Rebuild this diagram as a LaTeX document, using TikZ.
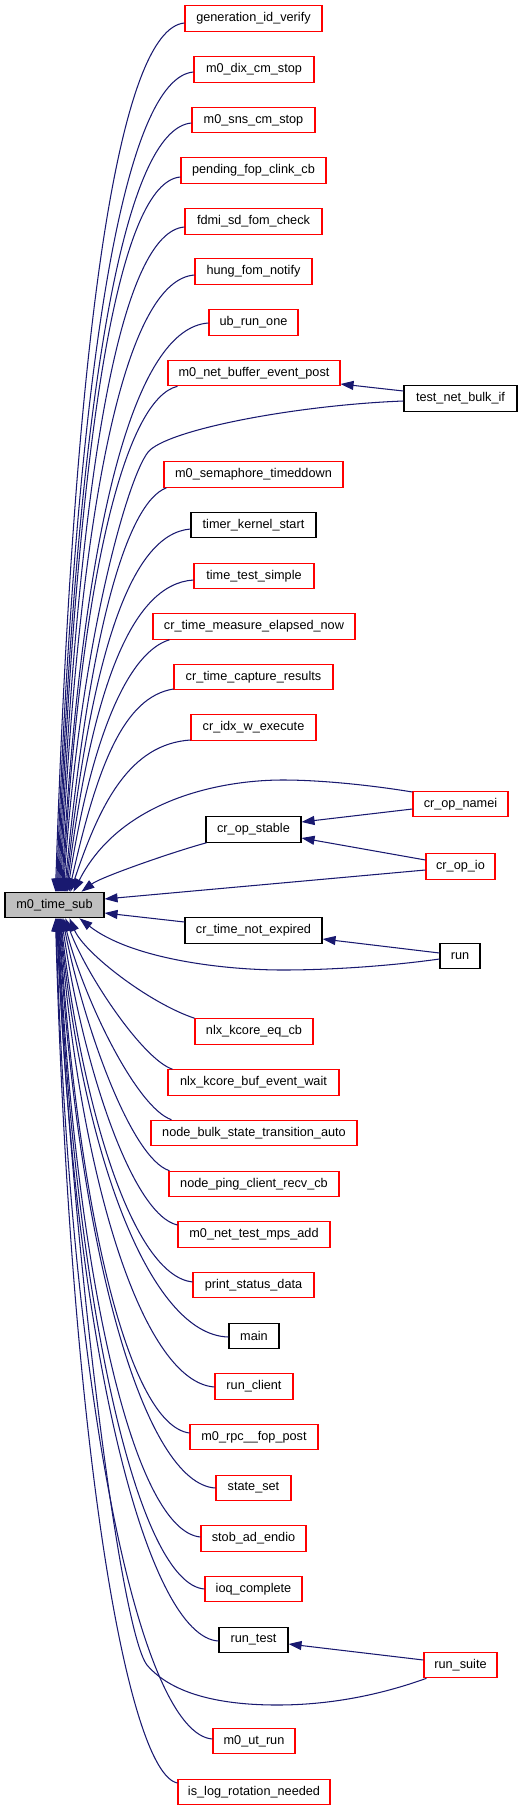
\documentclass[tikz,border=0pt]{standalone}
\usepackage{fontspec}
\setmainfont{Liberation Sans}
\usetikzlibrary{arrows.meta,calc}
\definecolor{edgeblue}{HTML}{191970}
\definecolor{nodered}{HTML}{FF0000}
\definecolor{subgray}{HTML}{BFBFBF}
\begin{document}
\begin{tikzpicture}[x=1pt,y=-1pt,
  box/.style={draw, line width=1.1pt, minimum height=25.5pt, inner sep=0pt, fill=white,
              font=\fontsize{12.7}{15}\selectfont, text=black},
  rbox/.style={box, draw=nodered},
  kbox/.style={box, draw=black},
  calls/.style={draw=edgeblue, line width=1.05pt, -{Triangle[length=13pt,width=9pt]}}
]
\fill[white] (0,0) rectangle (531,1811);
\useasboundingbox (0,0) rectangle (531,1811);

% nodes
\node[rbox, minimum width=137pt] (gen)  at (253.5,18.5)  {generation\_id\_verify};
\node[rbox, minimum width=120pt] (dix)  at (254,69.5)    {m0\_dix\_cm\_stop};
\node[rbox, minimum width=123pt] (sns)  at (253.5,120)   {m0\_sns\_cm\_stop};
\node[rbox, minimum width=145pt] (pend) at (253.5,170.5) {pending\_fop\_clink\_cb};
\node[rbox, minimum width=137pt] (fdmi) at (253.5,221.5) {fdmi\_sd\_fom\_check};
\node[rbox, minimum width=117pt] (hung) at (253.5,271.5) {hung\_fom\_notify};
\node[rbox, minimum width=89pt]  (ub)   at (253.5,322.5) {ub\_run\_one};
\node[rbox, minimum width=172pt] (nbep) at (254,373)     {m0\_net\_buffer\_event\_post};
\node[kbox, minimum width=113pt] (tnb)  at (460.5,398.5) {test\_net\_bulk\_if};
\node[rbox, minimum width=179pt] (sem)  at (253.5,474.5) {m0\_semaphore\_timeddown};
\node[kbox, minimum width=125pt] (tks)  at (253.5,525)   {timer\_kernel\_start};
\node[rbox, minimum width=120pt] (tts)  at (254,576)     {time\_test\_simple};
\node[rbox, minimum width=202pt] (ctme) at (254,626.5)   {cr\_time\_measure\_elapsed\_now};
\node[rbox, minimum width=159pt] (ctcr) at (253.5,677)   {cr\_time\_capture\_results};
\node[rbox, minimum width=125pt] (ciwe) at (253.5,727.5) {cr\_idx\_w\_execute};
\node[rbox, minimum width=95pt]  (namei) at (460.5,804)  {cr\_op\_namei};
\node[kbox, minimum width=95pt]  (stable) at (253.5,829.5) {cr\_op\_stable};
\node[rbox, minimum width=69pt]  (opio) at (460.5,866.5) {cr\_op\_io};
\node[box, draw=black, fill=subgray, minimum width=99pt] (sub) at (54.5,905) {m0\_time\_sub};
\node[kbox, minimum width=137pt] (ctne) at (253.5,930.5) {cr\_time\_not\_expired};
\node[kbox, minimum width=40pt]  (run)  at (460,956)     {run};
\node[rbox, minimum width=118pt] (nkec) at (254,1031.5)  {nlx\_kcore\_eq\_cb};
\node[rbox, minimum width=171pt] (nkbe) at (253.5,1082.5) {nlx\_kcore\_buf\_event\_wait};
\node[rbox, minimum width=206pt] (nbst) at (254,1133)    {node\_bulk\_state\_transition\_auto};
\node[rbox, minimum width=170pt] (npcr) at (254,1184)    {node\_ping\_client\_recv\_cb};
\node[rbox, minimum width=152pt] (ntma) at (254,1234.5)  {m0\_net\_test\_mps\_add};
\node[rbox, minimum width=121pt] (psd)  at (253.5,1285)  {print\_status\_data};
\node[kbox, minimum width=50pt]  (main) at (254,1336)    {main};
\node[rbox, minimum width=78pt]  (rc)   at (254,1386.5)  {run\_client};
\node[rbox, minimum width=128pt] (rfp)  at (254,1437)    {m0\_rpc\_\_fop\_post};
\node[rbox, minimum width=75pt]  (ss)   at (253.5,1488)  {state\_set};
\node[rbox, minimum width=105pt] (sae)  at (253.5,1538.5) {stob\_ad\_endio};
\node[rbox, minimum width=97pt]  (ioq)  at (253.5,1589)  {ioq\_complete};
\node[kbox, minimum width=69pt]  (rt)   at (253.5,1640)  {run\_test};
\node[rbox, minimum width=73pt]  (rs)   at (460.5,1665)  {run\_suite};
\node[rbox, minimum width=82pt]  (mur)  at (254,1741)    {m0\_ut\_run};
\node[rbox, minimum width=152pt] (ilrn) at (254,1792)    {is\_log\_rotation\_needed};

% edges into m0_time_sub from above
\draw[calls] ($(gen.west)+(0,4.5)$)  .. controls +(-65,6) and +(19,-570) .. ($(sub.north west)+(51,0)$);
\draw[calls] ($(dix.west)+(0,2.5)$)  .. controls +(-68,6) and +(20,-540) .. ($(sub.north west)+(52,0)$);
\draw[calls] ($(sns.west)+(0,3)$)    .. controls +(-67,6) and +(20,-505) .. ($(sub.north west)+(53,0)$);
\draw[calls] ($(pend.west)+(0,6.5)$) .. controls +(-61,5) and +(20,-470) .. ($(sub.north west)+(54,0)$);
\draw[calls] ($(fdmi.west)+(0,5.5)$) .. controls +(-62,5) and +(20,-435) .. ($(sub.north west)+(55,0)$);
\draw[calls] ($(hung.west)+(0,3.5)$) .. controls +(-67,5) and +(20,-405) .. ($(sub.north west)+(56,0)$);
\draw[calls] ($(ub.west)+(0,0.5)$)   .. controls +(-73,5) and +(22,-375) .. ($(sub.north west)+(57,0)$);
\draw[calls] ($(nbep.south west)+(10,0)$) .. controls +(-50,12) and +(20,-330) .. ($(sub.north west)+(58,0)$);
\draw[calls] ($(tnb.west)+(0,2.5)$) .. controls (300,405) and (175,428) .. (150,450)
             .. controls (130,468) and (80,640) .. ($(sub.north west)+(59,0)$);
\draw[calls] ($(sem.south west)+(3,0)$) .. controls +(-40,15) and +(25,-260) .. ($(sub.north west)+(60,0)$);
\draw[calls] ($(tks.west)+(0,4)$)   .. controls +(-62,5) and +(25,-230) .. ($(sub.north west)+(61,0)$);
\draw[calls] ($(tts.west)+(0,4)$)   .. controls +(-63,4) and +(25,-200) .. ($(sub.north west)+(62,0)$);
\draw[calls] ($(ctme.south west)+(17,0)$) .. controls +(-40,12) and +(25,-160) .. ($(sub.north west)+(63,0)$);
\draw[calls] ($(ctcr.west)+(0,12)$) .. controls +(-50,8) and +(28,-125) .. ($(sub.north west)+(64.5,0)$);
\draw[calls] ($(ciwe.west)+(0,12.5)$) .. controls +(-60,4) and +(30,-90) .. ($(sub.north west)+(66,0)$);
\draw[calls] ($(namei.west)+(0,-12)$) .. controls (370,785) and (320,780) .. (283,780)
             .. controls (220,780) and (120,800) .. ($(sub.north west)+(69,0)$);
\draw[calls] ($(stable.south west)+(1,0)$) .. controls +(-30,8) and +(20,-15) .. ($(sub.north west)+(77,0)$);

% side edges
\draw[calls] ($(opio.west)+(0,3.5)$) -- ($(sub.east)+(0,-6)$);
\draw[calls] ($(ctne.west)+(0,-8.5)$) -- ($(sub.east)+(0,8)$);

% edges into m0_time_sub from below
\draw[calls] ($(run.west)+(0,3)$) .. controls (390,966) and (330,970) .. (283,970)
             .. controls (220,970) and (130,958) .. ($(sub.south west)+(75,0)$);
\draw[calls] (nkec.north west) .. controls +(-45,-15) and +(15,35) .. ($(sub.south west)+(65,0)$);
\draw[calls] ($(nkbe.north west)+(5,0)$) .. controls +(-30,-10) and +(20,55) .. ($(sub.south west)+(61,0)$);
\draw[calls] ($(nbst.north west)+(21,0)$) .. controls +(-35,-12) and +(20,80) .. ($(sub.south west)+(59,0)$);
\draw[calls] ($(npcr.north west)+(1,0)$) .. controls +(-38,-12) and +(22,110) .. ($(sub.south west)+(58,0)$);
\draw[calls] ($(ntma.west)+(0,-9.5)$) .. controls +(-45,-10) and +(22,150) .. ($(sub.south west)+(57,0)$);
\draw[calls] ($(psd.west)+(0,-3)$)  .. controls +(-60,-7) and +(22,190) .. ($(sub.south west)+(56,0)$);
\draw[calls] ($(main.west)+(0,1)$)  .. controls +(-80,-2) and +(22,230) .. ($(sub.south west)+(55.5,0)$);
\draw[calls] ($(rc.west)+(0,0.5)$)  .. controls +(-70,-5) and +(22,270) .. ($(sub.south west)+(55,0)$);
\draw[calls] ($(rfp.west)+(0,-4)$)  .. controls +(-60,-8) and +(20,300) .. ($(sub.south west)+(54.5,0)$);
\draw[calls] (ss.west)              .. controls +(-70,-4) and +(20,340) .. ($(sub.south west)+(54,0)$);
\draw[calls] ($(sae.west)+(0,-1.5)$) .. controls +(-65,-6) and +(18,370) .. ($(sub.south west)+(53.5,0)$);
\draw[calls] (ioq.west)             .. controls +(-65,-5) and +(18,400) .. ($(sub.south west)+(53,0)$);
\draw[calls] ($(rt.west)+(0,1)$)    .. controls +(-70,-4) and +(17,440) .. ($(sub.south west)+(52.5,0)$);
\draw[calls] ($(rs.south west)+(3,0)$) .. controls (380,1695) and (330,1705) .. (277,1705)
             .. controls (215,1705) and (170,1692) .. (147,1665)
             .. controls (120,1630) and (72,1250) .. ($(sub.south west)+(52,0)$);
\draw[calls] ($(mur.west)+(0,-2)$)  .. controls +(-70,-5) and +(15,500) .. ($(sub.south west)+(51.5,0)$);
\draw[calls] ($(ilrn.west)+(0,-9)$) .. controls +(-50,-10) and +(15,530) .. ($(sub.south west)+(51,0)$);

% edges between callers
\draw[calls] ($(tnb.west)+(0,-7.5)$)  -- ($(nbep.east)+(0,11)$);
\draw[calls] ($(namei.west)+(0,5)$)   -- ($(stable.east)+(0,-7.5)$);
\draw[calls] ($(opio.west)+(0,-6.5)$) -- ($(stable.east)+(0,8.5)$);
\draw[calls] ($(run.west)+(0,-3)$)    -- ($(ctne.east)+(0,8.5)$);
\draw[calls] ($(rs.west)+(0,-5)$)     -- ($(rt.east)+(0,4)$);
\end{tikzpicture}
\end{document}
